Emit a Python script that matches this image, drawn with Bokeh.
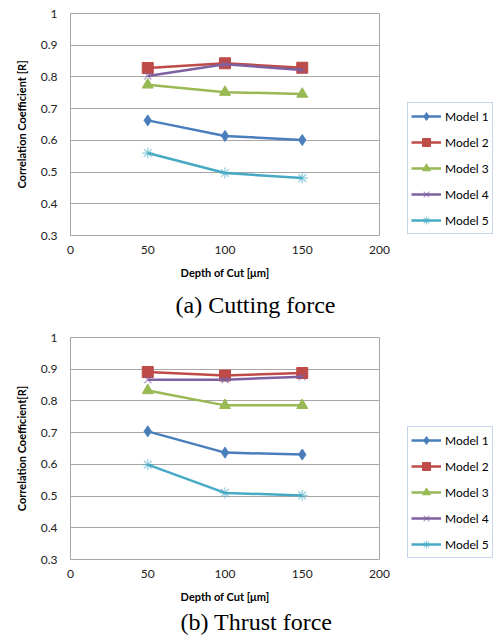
from bokeh.plotting import figure
from bokeh.layouts import column
from bokeh.models import Legend, LegendItem, Title, FixedTicker, Range1d
from bokeh.embed import file_html
from bokeh.resources import INLINE

# ---------------- data ----------------
depth = [50, 100, 150]
model_names = ["Model 1", "Model 2", "Model 3", "Model 4", "Model 5"]

cut_m1 = [0.663, 0.614, 0.601]
cut_m2 = [0.828, 0.843, 0.829]
cut_m3 = [0.775, 0.752, 0.746]
cut_m4 = [0.803, 0.840, 0.822]
cut_m5 = [0.560, 0.497, 0.481]

thr_m1 = [0.704, 0.637, 0.631]
thr_m2 = [0.891, 0.880, 0.888]
thr_m3 = [0.833, 0.786, 0.786]
thr_m4 = [0.867, 0.867, 0.876]
thr_m5 = [0.599, 0.510, 0.502]

x_ticks = [0, 50, 100, 150, 200]
x_tick_labels = ["0", "50", "100", "150", "200"]
y_ticks = [0.3, 0.4, 0.5, 0.6, 0.7, 0.8, 0.9, 1.0]
y_tick_labels = ["0.3", "0.4", "0.5", "0.6", "0.7", "0.8", "0.9", "1"]

x_title = "Depth of Cut [μm]"
y_title_a = "Correlation Coefficient [R]"
y_title_b = "Correlation Coefficient[R]"
caption_a = "(a) Cutting force"
caption_b = "(b) Thrust force"

# ---------------- styles ----------------
colors = ["#4A7EBB", "#BE4B48", "#98B954", "#7D60A0", "#46AAC5"]
markers = ["diamond", "square", "triangle", "x", "asterisk"]
msizes = [11, 11, 11, 10, 11]
SANS = "Lato"


def make_chart(series, y_title, caption, top_border, frame_h, bottom_border,
               cap_offset, cap_standoff):
    p = figure(frame_width=309, frame_height=frame_h,
               min_border_left=70, min_border_right=119,
               min_border_top=top_border,
               min_border_bottom=bottom_border,
               output_backend="svg", toolbar_location=None,
               x_range=Range1d(0, 200), y_range=Range1d(0.3, 1.0))
    p.background_fill_color = "white"
    p.border_fill_color = "white"
    p.outline_line_color = "#A6A6A6"
    p.outline_line_width = 1

    p.xgrid.grid_line_color = None
    p.ygrid.grid_line_color = "#A6A6A6"
    p.ygrid.grid_line_width = 1

    p.xaxis.ticker = FixedTicker(ticks=x_ticks)
    p.xaxis.major_label_overrides = dict(zip(x_ticks, x_tick_labels))
    p.yaxis.ticker = FixedTicker(ticks=y_ticks)
    p.yaxis.major_label_overrides = dict(zip(y_ticks, y_tick_labels))

    for ax in (p.xaxis, p.yaxis):
        ax.axis_line_color = "#A6A6A6"
        ax.major_tick_line_color = None
        ax.minor_tick_line_color = None
        ax.major_tick_out = 0
        ax.major_tick_in = 0
        ax.major_label_text_font = SANS
        ax.major_label_text_font_size = "12px"
        ax.major_label_text_color = "#222222"
        ax.axis_label_text_font = SANS
        ax.axis_label_text_font_size = "11px"
        ax.axis_label_text_font_style = "bold"
        ax.axis_label_text_color = "#000000"

    p.xaxis.axis_label = x_title
    p.xaxis.major_label_standoff = 10
    p.xaxis.axis_label_standoff = 9
    p.yaxis.axis_label = y_title
    p.yaxis.major_label_standoff = 13
    p.yaxis.axis_label_standoff = 10

    items = []
    for name, ys, c, m, s in zip(model_names, series, colors, markers, msizes):
        ln = p.line(depth, ys, line_color=c, line_width=2.5)
        if m in ("x", "asterisk"):
            sc = p.scatter(depth, ys, marker=m, size=s, line_color=c,
                           line_alpha=0.6, line_width=1.2)
        else:
            sc = p.scatter(depth, ys, marker=m, size=s, fill_color=c,
                           line_color=c)
        items.append(LegendItem(label=name, renderers=[ln, sc]))

    legend = Legend(items=items, location=(28, 1))
    legend.border_line_color = "#8EA9DB"
    legend.border_line_width = 1
    legend.background_fill_color = "white"
    legend.background_fill_alpha = 1
    legend.label_text_font = SANS
    legend.label_text_font_size = "12px"
    legend.label_text_color = "#000000"
    legend.glyph_width = 30
    legend.glyph_height = 20
    legend.label_height = 20
    legend.spacing = 6
    legend.padding = 3
    legend.margin = 0
    legend.label_standoff = 4
    p.add_layout(legend, "right")

    cap = Title(text=caption, align="left", offset=cap_offset,
                text_font="Liberation Serif", text_font_size="24px",
                text_font_style="normal", text_color="#000000",
                standoff=cap_standoff)
    p.add_layout(cap, "below")
    return p


p1 = make_chart([cut_m1, cut_m2, cut_m3, cut_m4, cut_m5], y_title_a, caption_a,
                top_border=13, frame_h=222, bottom_border=91,
                cap_offset=105, cap_standoff=17)
p2 = make_chart([thr_m1, thr_m2, thr_m3, thr_m4, thr_m5], y_title_b, caption_b,
                top_border=11, frame_h=222, bottom_border=80,
                cap_offset=110, cap_standoff=2)

layout = column(p1, p2, spacing=0)
open("out.html", "w").write(file_html(layout, INLINE))
